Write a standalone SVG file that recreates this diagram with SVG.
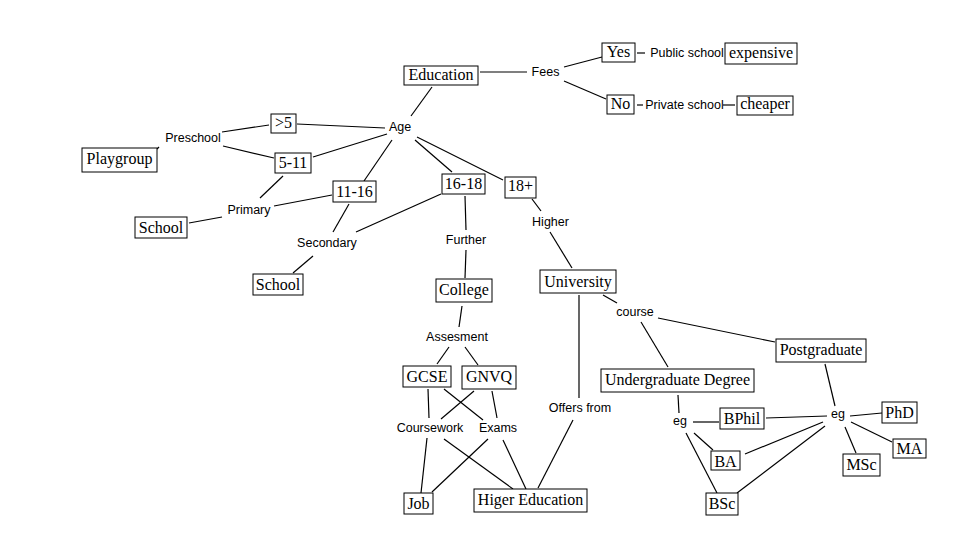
<svg xmlns="http://www.w3.org/2000/svg" width="967" height="556" viewBox="0 0 967 556">
<style>
.b rect{fill:#fff;stroke:#000;stroke-width:1}
.b text{font-family:"Liberation Serif","Times New Roman",serif;font-size:16px;fill:#000;text-anchor:middle}
.l text{font-family:"Liberation Sans",Arial,sans-serif;font-size:12.5px;fill:#000;text-anchor:middle}
#edges line{stroke:#000;stroke-width:1.2}
</style>
<rect width="967" height="556" fill="#fff"/>
<g id="edges">
<line x1="480" y1="72" x2="527" y2="72"/>
<line x1="564" y1="67" x2="602" y2="57"/>
<line x1="637" y1="53" x2="645" y2="53"/>
<line x1="564" y1="81" x2="606" y2="99"/>
<line x1="637" y1="105" x2="643" y2="105"/>
<line x1="723" y1="105" x2="735" y2="105"/>
<line x1="432" y1="87" x2="411" y2="116"/>
<line x1="297" y1="124" x2="385" y2="128"/>
<line x1="222" y1="132" x2="269" y2="125"/>
<line x1="157" y1="149" x2="159" y2="147"/>
<line x1="223" y1="146" x2="274" y2="158"/>
<line x1="313" y1="157" x2="387" y2="134"/>
<line x1="392" y1="140" x2="364" y2="181"/>
<line x1="283" y1="176" x2="260" y2="198"/>
<line x1="274" y1="206" x2="332" y2="195"/>
<line x1="222" y1="217" x2="189" y2="223"/>
<line x1="349" y1="204" x2="333" y2="232"/>
<line x1="356" y1="232" x2="441" y2="194"/>
<line x1="313" y1="256" x2="293" y2="273"/>
<line x1="415" y1="140" x2="452" y2="172"/>
<line x1="465" y1="196" x2="466" y2="230"/>
<line x1="466" y1="250" x2="465" y2="278"/>
<line x1="417" y1="137" x2="503" y2="180"/>
<line x1="532" y1="199" x2="541" y2="211"/>
<line x1="550" y1="232" x2="572" y2="268"/>
<line x1="462" y1="306" x2="459" y2="327"/>
<line x1="449" y1="347" x2="437" y2="364"/>
<line x1="465" y1="347" x2="478" y2="365"/>
<line x1="428" y1="389" x2="429" y2="418"/>
<line x1="444" y1="389" x2="483" y2="420"/>
<line x1="474" y1="391" x2="441" y2="419"/>
<line x1="492" y1="391" x2="497" y2="418"/>
<line x1="427" y1="438" x2="421" y2="493"/>
<line x1="444" y1="439" x2="513" y2="489"/>
<line x1="488" y1="439" x2="432" y2="492"/>
<line x1="503" y1="440" x2="526" y2="489"/>
<line x1="573" y1="420" x2="538" y2="488"/>
<line x1="579" y1="295" x2="579" y2="398"/>
<line x1="603" y1="295" x2="617" y2="303"/>
<line x1="641" y1="322" x2="668" y2="367"/>
<line x1="658" y1="318" x2="775" y2="342"/>
<line x1="678" y1="395" x2="679" y2="413"/>
<line x1="693" y1="422" x2="719" y2="422"/>
<line x1="766" y1="418" x2="827" y2="416"/>
<line x1="850" y1="416" x2="882" y2="413"/>
<line x1="851" y1="422" x2="892" y2="442"/>
<line x1="845" y1="427" x2="856" y2="453"/>
<line x1="823" y1="422" x2="745" y2="454"/>
<line x1="825" y1="426" x2="737" y2="493"/>
<line x1="694" y1="433" x2="713" y2="450"/>
<line x1="686" y1="433" x2="717" y2="493"/>
<line x1="825" y1="364" x2="835" y2="406"/>
</g>
<g id="education" class="b"><rect x="404" y="66" width="74" height="19"/><text x="441" y="80">Education</text></g>
<g id="yes" class="b"><rect x="602" y="43" width="33" height="19"/><text x="618.5" y="57">Yes</text></g>
<g id="expensive" class="b"><rect x="725" y="43" width="72" height="21"/><text x="761" y="58">expensive</text></g>
<g id="no" class="b"><rect x="607" y="95" width="27" height="19"/><text x="620.5" y="109">No</text></g>
<g id="cheaper" class="b"><rect x="737" y="96" width="56" height="19"/><text x="765" y="109">cheaper</text></g>
<g id="gt5" class="b"><rect x="271" y="114" width="25" height="19"/><text x="283.5" y="128">&gt;5</text></g>
<g id="playgroup" class="b"><rect x="82" y="148" width="75" height="24"/><text x="119.5" y="164">Playgroup</text></g>
<g id="age5-11" class="b"><rect x="275" y="153" width="36" height="20"/><text x="293" y="168">5-11</text></g>
<g id="age11-16" class="b"><rect x="333" y="181" width="43" height="21"/><text x="354.5" y="196.5">11-16</text></g>
<g id="school1" class="b"><rect x="135" y="217" width="52" height="21"/><text x="161" y="232.5">School</text></g>
<g id="age16-18" class="b"><rect x="442" y="174" width="43" height="20"/><text x="463.5" y="188.5">16-18</text></g>
<g id="age18plus" class="b"><rect x="505" y="177" width="31" height="21"/><text x="520.5" y="191">18+</text></g>
<g id="school2" class="b"><rect x="253" y="274" width="50" height="21"/><text x="278" y="290">School</text></g>
<g id="college" class="b"><rect x="436" y="279" width="56" height="23"/><text x="464" y="295">College</text></g>
<g id="university" class="b"><rect x="540" y="270" width="76" height="23"/><text x="578" y="286.5">University</text></g>
<g id="gcse" class="b"><rect x="403" y="366" width="48" height="21"/><text x="427" y="381.5">GCSE</text></g>
<g id="gnvq" class="b"><rect x="462" y="366" width="54" height="23"/><text x="489" y="381.5">GNVQ</text></g>
<g id="job" class="b"><rect x="404" y="493" width="29" height="21"/><text x="418.5" y="508.5">Job</text></g>
<g id="higered" class="b"><rect x="474" y="489" width="113" height="23"/><text x="530.5" y="505">Higer Education</text></g>
<g id="postgrad" class="b"><rect x="776" y="339" width="90" height="23"/><text x="821" y="355">Postgraduate</text></g>
<g id="undergrad" class="b"><rect x="601" y="369" width="153" height="23"/><text x="677.5" y="385">Undergraduate Degree</text></g>
<g id="bphil" class="b"><rect x="720" y="408" width="44" height="21"/><text x="742" y="424">BPhil</text></g>
<g id="ba" class="b"><rect x="711" y="451" width="29" height="19"/><text x="725.5" y="466.5">BA</text></g>
<g id="bsc" class="b"><rect x="706" y="493" width="32" height="22"/><text x="722" y="509">BSc</text></g>
<g id="phd" class="b"><rect x="882" y="402" width="35" height="21"/><text x="899.5" y="418">PhD</text></g>
<g id="ma" class="b"><rect x="893" y="439" width="33" height="19"/><text x="909.5" y="454">MA</text></g>
<g id="msc" class="b"><rect x="843" y="454" width="37" height="22"/><text x="861.5" y="470">MSc</text></g>
<g id="fees" class="l"><text x="545.5" y="76">Fees</text></g>
<g id="public" class="l"><text x="687" y="57">Public school</text></g>
<g id="private" class="l"><text x="684.5" y="109">Private school</text></g>
<g id="agelbl" class="l"><text x="400" y="131">Age</text></g>
<g id="preschool" class="l"><text x="193" y="142">Preschool</text></g>
<g id="primary" class="l"><text x="249" y="214">Primary</text></g>
<g id="secondary" class="l"><text x="327" y="246.5">Secondary</text></g>
<g id="further" class="l"><text x="466" y="244">Further</text></g>
<g id="higher" class="l"><text x="550.5" y="225.5">Higher</text></g>
<g id="assesment" class="l"><text x="457" y="340.5">Assesment</text></g>
<g id="coursework" class="l"><text x="430" y="431.5">Coursework</text></g>
<g id="exams" class="l"><text x="498" y="431.5">Exams</text></g>
<g id="offers" class="l"><text x="580" y="412">Offers from</text></g>
<g id="course" class="l"><text x="635" y="315.5">course</text></g>
<g id="eg1" class="l"><text x="680" y="425">eg</text></g>
<g id="eg2" class="l"><text x="838" y="418">eg</text></g>
</svg>
